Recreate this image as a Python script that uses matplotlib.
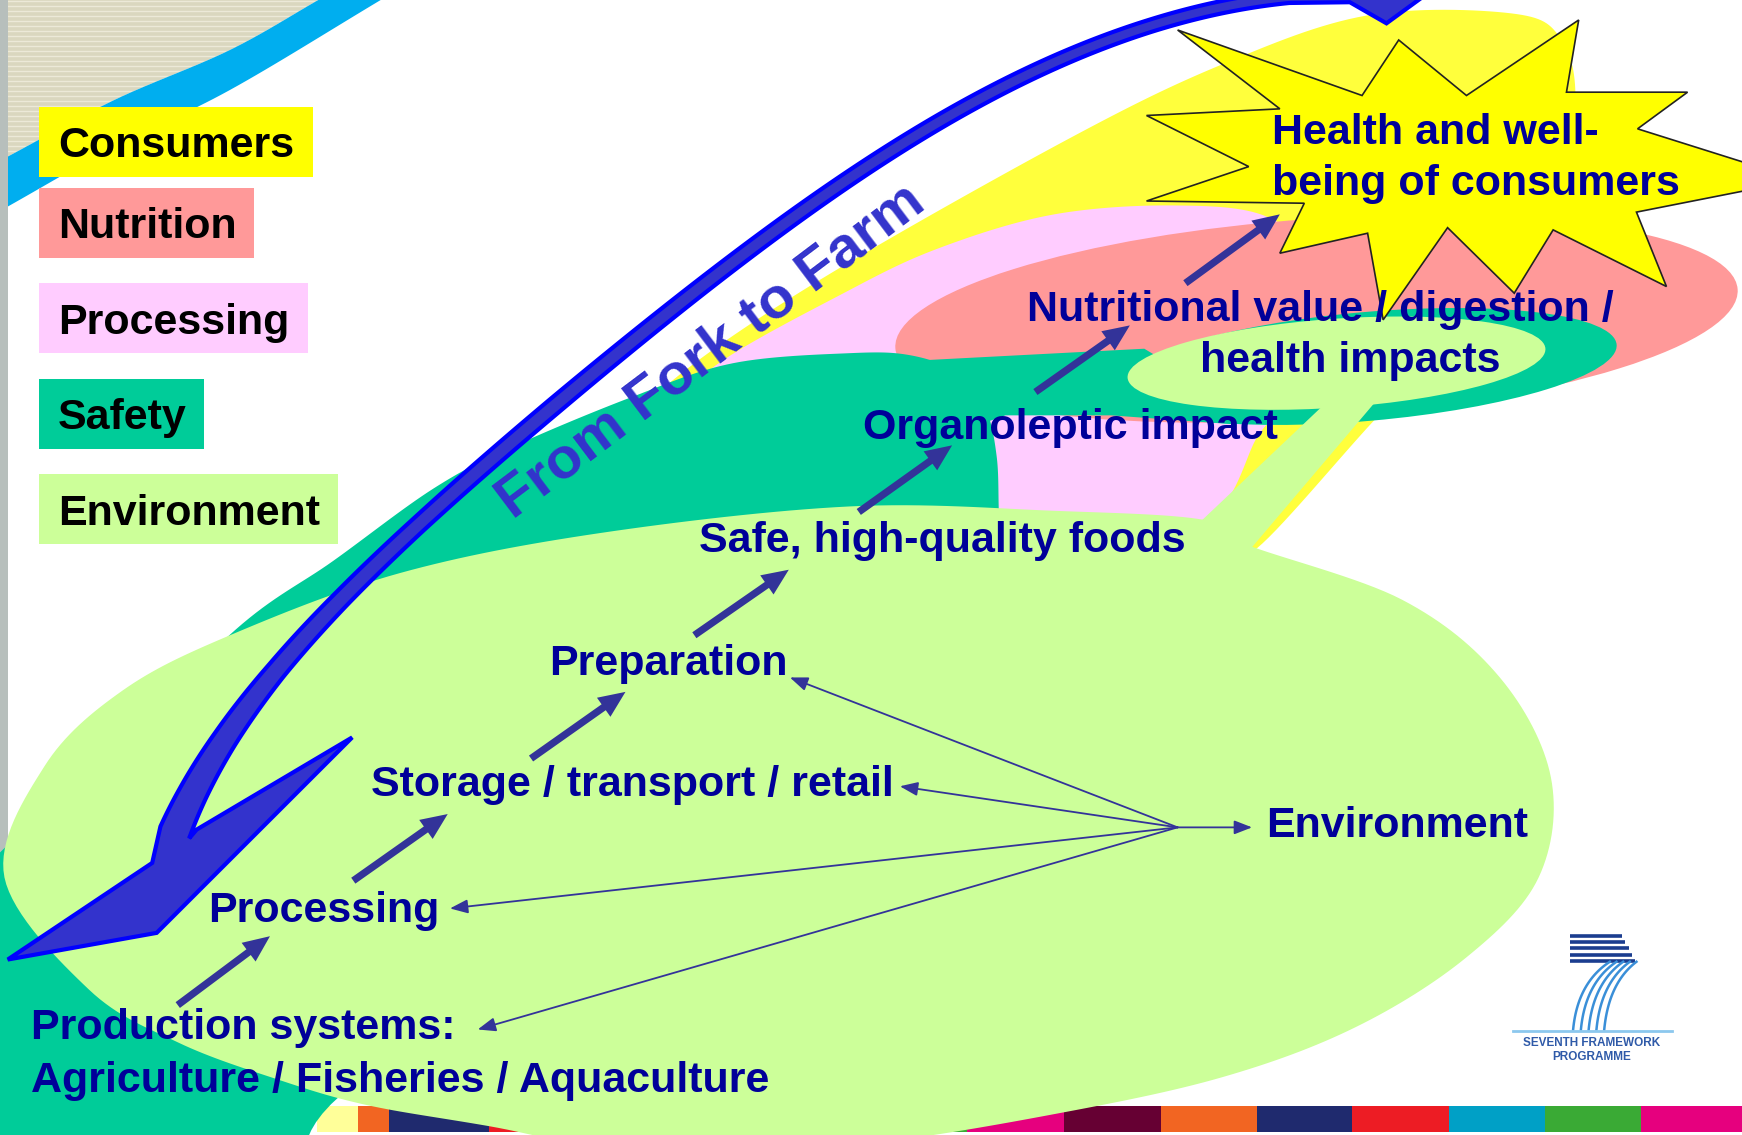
import numpy as np
import matplotlib
matplotlib.use("Agg")
import matplotlib.pyplot as plt
from matplotlib.patches import Polygon, Ellipse, Rectangle

# drawing units = the slide as it was shown (1568 x 1022), y grows downwards
W, H = 1568, 1022

# legend boxes on the left
legend_labels = ["Consumers", "Nutrition", "Processing", "Safety", "Environment"]
legend_colors = ["#ffff00", "#ff9999", "#ffccff", "#00cc99", "#ccff99"]
legend_tops = [96, 169, 255, 341, 427]
legend_widths = [247, 194, 242, 149, 269]

# chain "from farm to fork", bottom to top
step_labels = ["Production systems:", "Agriculture / Fisheries / Aquaculture", "Processing",
               "Storage / transport / retail", "Preparation", "Safe, high-quality foods",
               "Organoleptic impact", "Nutritional value / digestion /", "health impacts",
               "Health and well-", "being of consumers", "Environment"]
step_pos = [(28, 922), (28, 969), (187, 816), (334, 703), (494, 594), (629, 483),
            (777, 381), (924, 275), (1215, 321), (1145, 116), (1145, 162), (1140, 740)]

# thick arrows between the steps (start, end)
step_arrows = [((160, 905), (243, 843)), ((318, 793), (403, 733)), ((478, 683), (563, 623)),
               ((625, 572), (710, 513)), ((773, 461), (857, 401)), ((932, 353), (1017, 293)),
               ((1067, 255), (1152, 193))]

# thin arrows fanning out from the environment
env_hub = (1060, 745)
env_targets = [(711, 610), (810, 708), (405, 818), (430, 927), (1127, 745)]

# coloured areas
yellow_blob = [(570, 390), (606, 342), (738, 252), (960, 126), (1100, 58), (1230, 14), (1360, 12),
               (1405, 35), (1418, 95), (1400, 200), (1300, 330), (1249, 366), (1131, 494),
               (1100, 486), (850, 450), (650, 430)]
pink_blob = [(620, 380), (639, 333), (765, 261), (849, 222), (949, 193), (1056, 185), (1140, 195),
             (1185, 240), (1180, 330), (1150, 372), (1132, 393), (1083, 470), (950, 478), (760, 450)]
teal_main = [(-40, 1090), (240, 1070), (308, 985), (600, 760), (900, 520), (899, 459), (897, 410),
             (887, 368), (862, 336), (820, 320), (765, 318), (660, 327), (570, 357), (462, 402),
             (390, 440), (300, 505), (212, 567), (90, 690), (-40, 830)]
teal_band = [(800, 326), (1030, 314), (1090, 350), (1110, 382), (1000, 374), (905, 374), (860, 390)]
green_blob = [(4, 790), (40, 690), (110, 622), (207, 572), (360, 516), (540, 480), (765, 456),
              (950, 460), (1083, 468), (1121, 490), (1262, 540), (1350, 610), (1396, 700),
              (1385, 790), (1320, 862), (1220, 925), (1100, 970), (950, 1003), (780, 1030),
              (600, 1042), (440, 1014), (330, 995), (250, 972), (161, 939), (80, 891)]
green_tail = [(1075, 475), (1190, 366), (1237, 363), (1125, 495)]

star = [(1060, 27), (1226, 86), (1259, 36), (1320, 86), (1421, 18), (1410, 83), (1519, 83),
        (1474, 116), (1620, 162), (1473, 191), (1500, 258), (1398, 207), (1363, 264), (1303, 205),
        (1245, 288), (1231, 210), (1152, 228), (1174, 183), (1032, 181), (1124, 150), (1032, 104),
        (1152, 98)]

# the big "from fork to farm" arrow: centre line of the shaft and its half width
arrow_center = [(1160, -3), (1035, 24), (816, 126), (641, 252), (500, 365), (375, 470),
                (309, 540), (250, 605), (202, 665), (171, 714), (159, 750)]
arrow_halfw = [5.5, 5.5, 6, 6.5, 7, 7, 7.5, 8.5, 10.5, 12.5, 14]
arrow_head = [(137, 777), (7, 864), (141, 840), (317, 664), (177, 747)]
arrow_tail = [(1215, 2), (1248, 21), (1285, -6), (1200, -30)]

cyan_upper = [(7, 141), (103, 90), (207, 45), (290, -2)]
cyan_lower = [(7, 186), (103, 132), (207, 81), (346, -2)]

strip_edges = [285, 322, 350, 440, 530, 610, 696, 783, 870, 958, 1045, 1131, 1217, 1304, 1391, 1477, 1568]
strip_colors = ["#ffff99", "#f26522", "#1f2a6e", "#ed1c24", "#e6007e", "#660033", "#00a0c6",
                "#3aaa35", "#e6007e", "#660033", "#f26522", "#1f2a6e", "#ed1c24", "#00a0c6",
                "#3aaa35", "#e6007e"]

NAVY = "#000099"
ARROW = "#333399"


def spline(pts, n=16, closed=True):
    p = np.asarray(pts, float)
    if not closed:
        p = np.vstack([2 * p[0] - p[1], p, 2 * p[-1] - p[-2]])
    N = len(p)
    t = np.linspace(0, 1, n, endpoint=False)[:, None]
    segs = []
    for i in (range(N) if closed else range(1, N - 2)):
        p0, p1, p2, p3 = p[i - 1], p[i], p[(i + 1) % N], p[(i + 2) % N]
        segs.append(0.5 * (2 * p1 + (p2 - p0) * t + (2 * p0 - 5 * p1 + 4 * p2 - p3) * t ** 2
                           + (3 * p1 - p0 - 3 * p2 + p3) * t ** 3))
    if not closed:
        segs.append(p[-2][None, :])
    return np.vstack(segs)


plt.rcParams["font.family"] = ["Liberation Sans", "DejaVu Sans"]
fig = plt.figure(figsize=(17.42, 11.35), dpi=100)
ax = fig.add_axes([0, 0, 1, 1])
ax.set_xlim(0, W)
ax.set_ylim(H, 0)
ax.axis("off")

# top-left corner of the slide template
beige = Polygon(np.vstack([[(0, -2)], spline(cyan_upper, closed=False)[::-1], [(0, 141)]]),
                closed=True, fc="#dad7bf", ec="none", zorder=1)
ax.add_patch(beige)
for yy in np.arange(1, 150, 4.5):
    ln, = ax.plot([0, 300], [yy, yy], color="#ece9d8", lw=1.0, zorder=1.1)
    ln.set_clip_path(beige)
ax.add_patch(Polygon(np.vstack([spline(cyan_upper, closed=False), spline(cyan_lower, closed=False)[::-1]]),
                     closed=True, fc="#00aeef", ec="none", zorder=1.2))
ax.add_patch(Rectangle((0, 0), 7, H, fc="#b7bfbc", ec="none", zorder=1.3))

# coloured footer
for i, c in enumerate(strip_colors):
    ax.add_patch(Rectangle((strip_edges[i], 995.5), strip_edges[i + 1] - strip_edges[i], 23.5,
                           fc=c, ec="none", zorder=1))

# areas, back to front
ax.add_patch(Polygon(spline(yellow_blob), closed=True, fc="#ffff3c", ec="none", zorder=2))
ax.add_patch(Polygon(spline(pink_blob), closed=True, fc="#ffccff", ec="none", zorder=3))
ax.add_patch(Ellipse((1185, 287), 760, 180, angle=-4, fc="#ff9999", ec="none", zorder=4))
ax.add_patch(Polygon(spline(teal_main), closed=True, fc="#00cc99", ec="none", zorder=5))
ax.add_patch(Polygon(teal_band, closed=True, fc="#00cc99", ec="none", zorder=5))
ax.add_patch(Ellipse((1230, 330), 452, 98, angle=-5, fc="#00cc99", ec="none", zorder=5))
ax.add_patch(Polygon(spline(green_blob), closed=True, fc="#ccff99", ec="none", zorder=6))
ax.add_patch(Polygon(green_tail, closed=True, fc="#ccff99", ec="none", zorder=6))
ax.add_patch(Ellipse((1203, 327), 377, 80, angle=-4, fc="#ccff99", ec="none", zorder=6))

ax.add_patch(Polygon(star, closed=True, fc="#ffff00", ec="#222222", lw=1.2, zorder=7))

# big curved arrow: smooth the centre line, then offset it to both sides
P = np.asarray(arrow_center, float)
s = np.concatenate([[0], np.cumsum(np.hypot(*np.diff(P, axis=0).T))])
s /= s[-1]
ss = np.linspace(0, 1, 400)
cl = np.column_stack([np.polyval(np.polyfit(s, P[:, 0], 5), ss),
                      np.polyval(np.polyfit(s, P[:, 1], 5), ss)])
hw = np.interp(ss, s, arrow_halfw)
d = np.gradient(cl, axis=0)
d /= np.hypot(d[:, 0], d[:, 1])[:, None]
nrm = np.column_stack([-d[:, 1], d[:, 0]])
outer = cl + hw[:, None] * nrm
inner = cl - hw[:, None] * nrm
big = np.vstack([outer, arrow_head, inner[::-1], arrow_tail])
ax.add_patch(Polygon(big, closed=True, fc="#3333cc", ec="#0000ff", lw=3, joinstyle="miter", zorder=8))

for (x0, y0), (x1, y1) in step_arrows:
    ax.arrow(x0, y0, x1 - x0, y1 - y0, width=6.5, head_width=21, head_length=24,
             length_includes_head=True, fc=ARROW, ec="none", zorder=9)
for tx, ty in env_targets:
    ax.annotate("", xy=(tx, ty), xytext=env_hub,
                arrowprops=dict(arrowstyle="-|>,head_length=0.9,head_width=0.35", color=ARROW,
                                lw=1.3, shrinkA=0, shrinkB=0, mutation_scale=12), zorder=9)

for lab, (x, y) in zip(step_labels, step_pos):
    ha = "center" if lab == "health impacts" else "left"
    ax.text(x, y + 14, lab, ha=ha, va="baseline", fontsize=31, fontweight="bold",
            color=NAVY, zorder=10)

ax.text(640, 316, "From Fork to Farm", rotation=37, rotation_mode="anchor", ha="center",
        va="center", fontsize=42, fontweight="bold", color="#3333cc", zorder=10)

for lab, c, top, w in zip(legend_labels, legend_colors, legend_tops, legend_widths):
    ax.add_patch(Rectangle((35, top), w, 63, fc=c, ec="none", zorder=10))
    ax.text(52, top + 31.5 + 14, lab, ha="left", va="baseline", fontsize=31,
            fontweight="bold", color="black", zorder=11)

# FP7 logo
for i in range(5):
    y = 843 + i * 5.5
    ax.plot([1413, 1460 + i * 3], [y, y], color="#1b3d8f", lw=2.6, solid_capstyle="butt", zorder=10)
for i in range(5):
    t = np.linspace(0, 1, 30)
    p0 = np.array([1416 + i * 7, 927])
    p1 = np.array([1420 + i * 7, 885])
    p2 = np.array([1449 + i * 6, 866])
    bez = ((1 - t) ** 2)[:, None] * p0 + (2 * t * (1 - t))[:, None] * p1 + (t ** 2)[:, None] * p2
    ax.plot(bez[:, 0], bez[:, 1], color="#3a8fd8", lw=1.8, zorder=10)
ax.plot([1362, 1505], [928, 928], color="#8cc8ee", lw=2, zorder=10)
ax.text(1433, 939, "SEVENTH FRAMEWORK", ha="center", va="center", fontsize=8.5,
        fontweight="bold", color="#2f5aa8", zorder=10)
ax.text(1433, 952, "PROGRAMME", ha="center", va="center", fontsize=8.5,
        fontweight="bold", color="#2f5aa8", zorder=10)

fig.savefig("out.png", dpi=100)
